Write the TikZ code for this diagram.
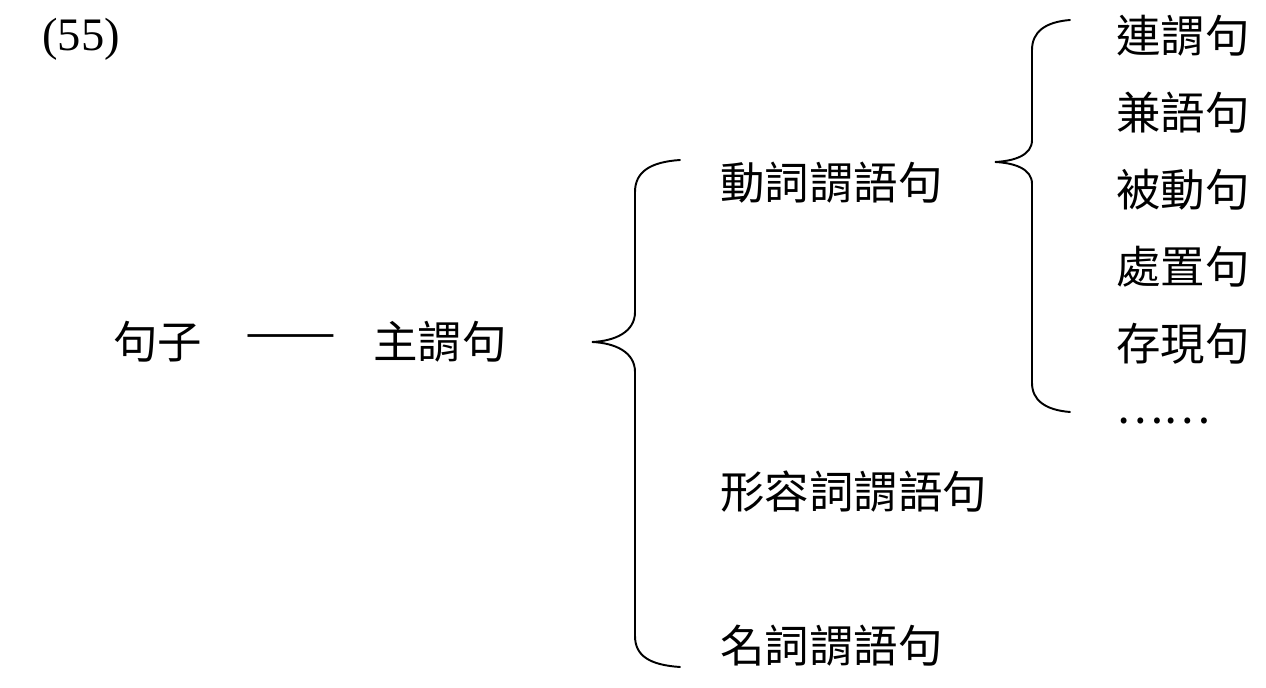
\documentclass[tikz,border=0pt]{standalone}
\usepackage{fontspec}
\setmainfont{Liberation Serif}
\newfontfamily\cjk{Noto Sans CJK TC}
\usetikzlibrary{positioning}
\tikzset{lbl/.style = {anchor = west, inner sep = 0, font = \cjk\fontsize{25.3}{29}\selectfont}}
\tikzset{brc/.style = {line width = 1.1pt, line cap = round}}

\begin{document}
\begin{tikzpicture}[x = 0.02cm, y = -0.02cm]
    \useasboundingbox (0, 0) rectangle (1266, 688);

    \node [anchor = west, inner sep = 0, font = \fontsize{26.5}{30}\selectfont] (num) at (42, 39) {(55)};

    \node [lbl] (juzi) at (113, 342) {句子};
    \node [lbl] (dash) at (245, 342) {\scalebox{1.22}[1]{——}};
    \node [lbl] (zhuwei) at (373, 342) {主謂句};

    \node [lbl] (dongci) at (720, 183) {動詞謂語句};
    \node [lbl] (xingrong) at (720, 492) {形容詞謂語句};
    \node [lbl] (mingci) at (720, 646) {名詞謂語句};

    \foreach \t [count = \i] in {連謂句, 兼語句, 被動句, 處置句, 存現句, ……} {
      \node [lbl] (sub\i) at (1116, {36 + 77 * (\i - 1)}) {\t};
    }

    \draw [brc] (680, 160) .. controls (650, 162) and (635, 172) .. (635, 192)
      -- (635, 312) .. controls (635, 332) and (615, 341) .. (592, 342)
      .. controls (615, 343) and (635, 352) .. (635, 372)
      -- (635, 636) .. controls (635, 656) and (650, 665) .. (680, 667);

    \draw [brc] (1070, 20) .. controls (1045, 22) and (1032, 32) .. (1032, 50)
      -- (1032, 140) .. controls (1032, 155) and (1015, 161) .. (995, 162)
      .. controls (1015, 163) and (1032, 169) .. (1032, 184)
      -- (1032, 383) .. controls (1032, 400) and (1045, 410) .. (1070, 412);
  \end{tikzpicture}
\end{document}
